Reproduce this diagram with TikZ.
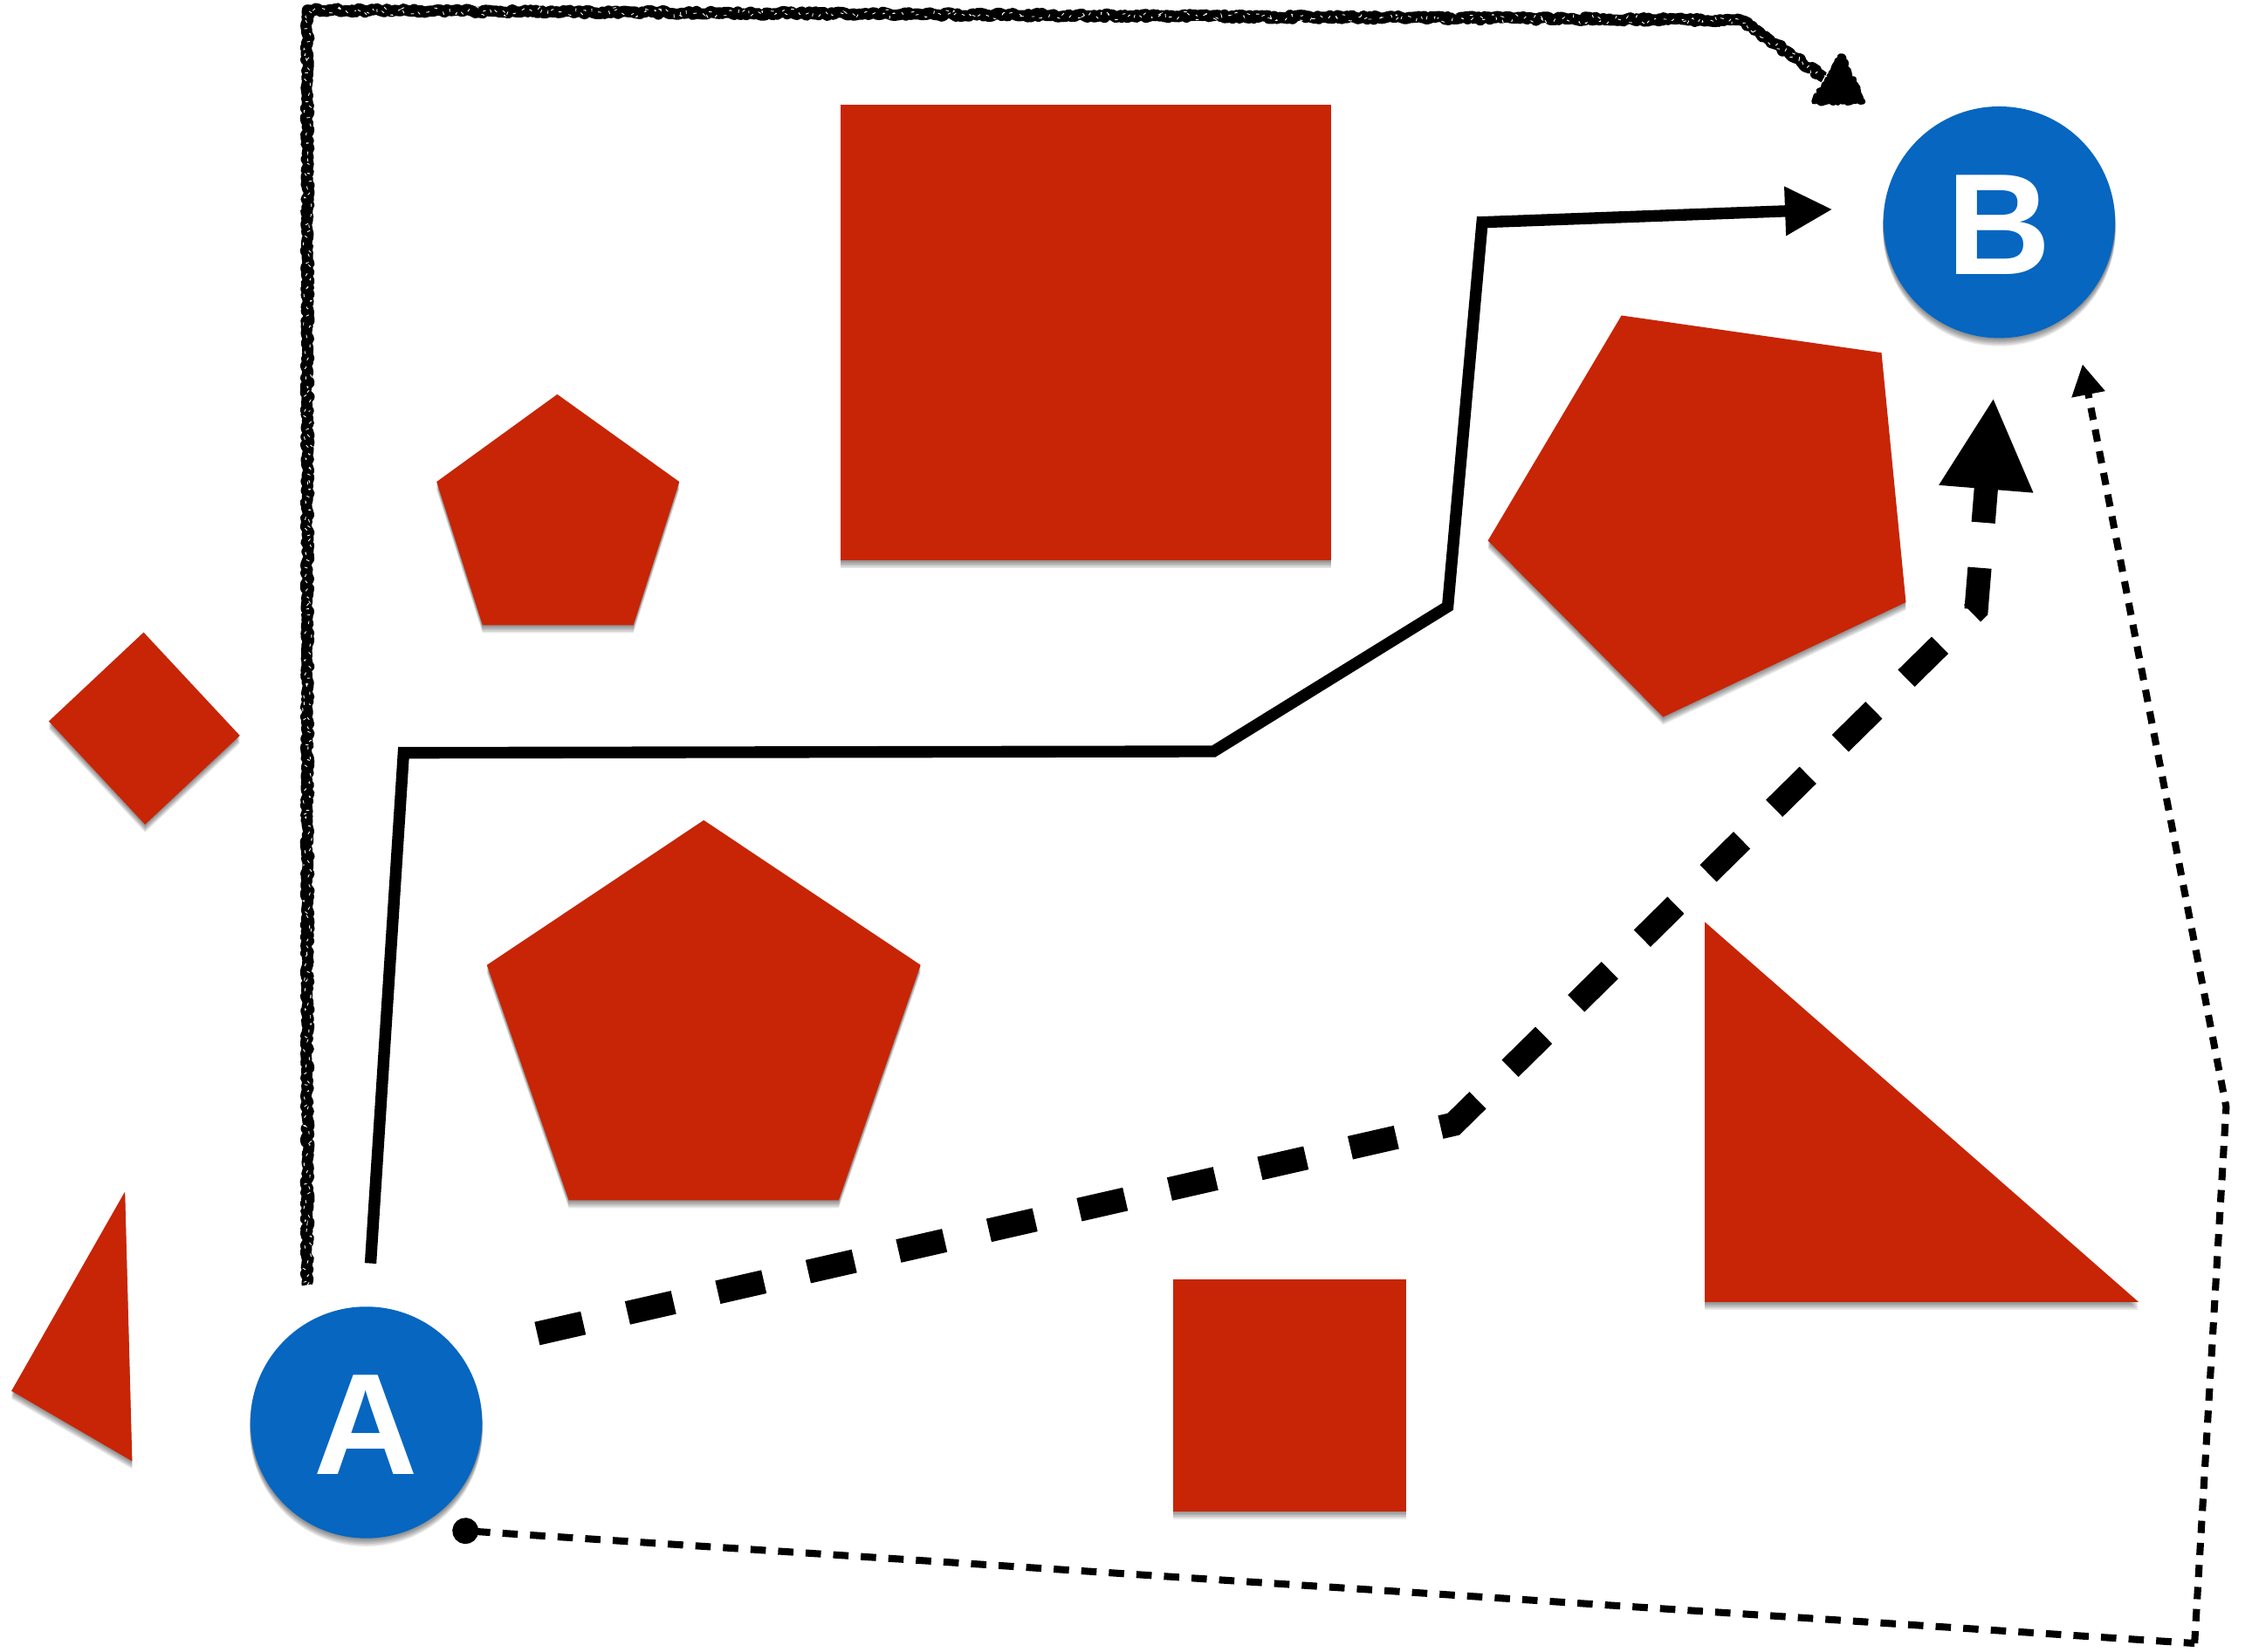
\documentclass[tikz,border=0pt]{standalone}
\usepackage{fontspec}
\setmainfont{Liberation Sans}
\usetikzlibrary{arrows.meta,decorations.pathmorphing}
\definecolor{shapered}{RGB}{199,37,6}
\definecolor{nodeblue}{RGB}{6,102,192}
\newcommand\softshadow[1]{\foreach \s in {1,2,3,4,5,6}{\fill[black,opacity=.085,yshift=-\s*0.85pt] #1;}}
\newcommand\redshape[1]{\softshadow{#1}\fill[shapered] #1;}
\newcommand\letterbox[1]{\raisebox{0pt}[\dimexpr\height+3pt][0pt]{#1}}
\tikzset{
  blue node/.style={circle,fill=nodeblue,text=white,minimum size=151pt,inner sep=0pt,font=\fontsize{94}{94}\selectfont\bfseries},
  solidline/.style={line width=7.6pt,-{Triangle[length=31pt,width=30pt]}},
  thickdash/.style={line width=15.5pt,dash pattern=on 30.8pt off 29.6pt,-{Triangle[length=60pt,width=57pt]}},
  thindash/.style={line width=4.6pt,dash pattern=on 10pt off 8pt},
  thindashb/.style={line width=4.6pt,dash pattern=on 8pt off 6.4pt},
  rough/.style={line width=7.2pt,line join=round,decorate,decoration={random steps,segment length=1.6pt,amplitude=1.2pt}},
  speck/.style={white,line width=.5pt,dash pattern=on 2pt off 5pt,decorate,decoration={random steps,segment length=2pt,amplitude=3pt}},
}
\begin{document}
\begin{tikzpicture}[x=0.0329cm,y=-0.03285cm,line join=miter]
\pgfmathsetseed{7}
\useasboundingbox (0,0) rectangle (1568,1152);
% red shapes
\redshape{(585,73) rectangle (927,391)}
\redshape{(388,275) -- (473,336) -- (441,436) -- (336,436) -- (304,336) -- cycle}
\redshape{(100,441) -- (167,513) -- (101,575) -- (34,503) -- cycle}
\redshape{(490,572) -- (641,673) -- (584,837) -- (396,837) -- (339,673) -- cycle}
\redshape{(87,831) -- (8,970) -- (92,1019) -- cycle}
\redshape{(817,892) rectangle (979,1054)}
\redshape{(1187,643) -- (1489,908) -- (1187,908) -- cycle}
\redshape{(1129,220) -- (1310,246) -- (1327,420) -- (1158,500) -- (1036,377) -- cycle}
% endpoints
\softshadow{(255,992) circle[radius=81]}
\softshadow{(1392,155) circle[radius=81]}
\node[blue node] (A) at (255,992) {\letterbox{A}};
\node[blue node] (B) at (1392,155) {\letterbox{B}};
% waypoints
\coordinate (s1) at (258,881);
\coordinate (s2) at (281,525);
\coordinate (s3) at (845,524);
\coordinate (s4) at (1008,423);
\coordinate (s5) at (1032,155);
\coordinate (s6) at (1276,146);
\coordinate (r1) at (214,896);
\coordinate (r2) at (214,7);
\coordinate (r3) at (1212,14);
\coordinate (r4) at (1270,54);
\coordinate (ra) at (1282,39);
\coordinate (rb) at (1297,71);
\coordinate (rc) at (1263,71);
\coordinate (d1) at (374,930);
\coordinate (d2) at (1012,784);
\coordinate (d3) at (1376,425);
\coordinate (d4) at (1388,277);
\coordinate (t1) at (315,1067);
\coordinate (t2) at (1528,1146);
\coordinate (t3) at (1550,772);
\coordinate (t4) at (1450,254);
% connectors
\draw[solidline] (s1) -- (s2) -- (s3) -- (s4) -- (s5) -- (s6);
\draw[rough] (r1) -- (r2) -- (r3) -- (r4);
\draw[rough,line width=3.4pt,fill=black] (ra) -- (rb) -- (rc) -- cycle;
\draw[speck] (r1) -- (r2) -- (r3) -- (r4);
\draw[thickdash] (d1) -- (d2) -- (d3) -- (d4);
\draw[thindash,{Circle[length=17pt,width=17pt]}-] (t1) -- (t2);
\draw[thindashb,-{Triangle[length=20pt,width=21pt]}] (t2) -- (t3) -- (t4);
\end{tikzpicture}
\end{document}
